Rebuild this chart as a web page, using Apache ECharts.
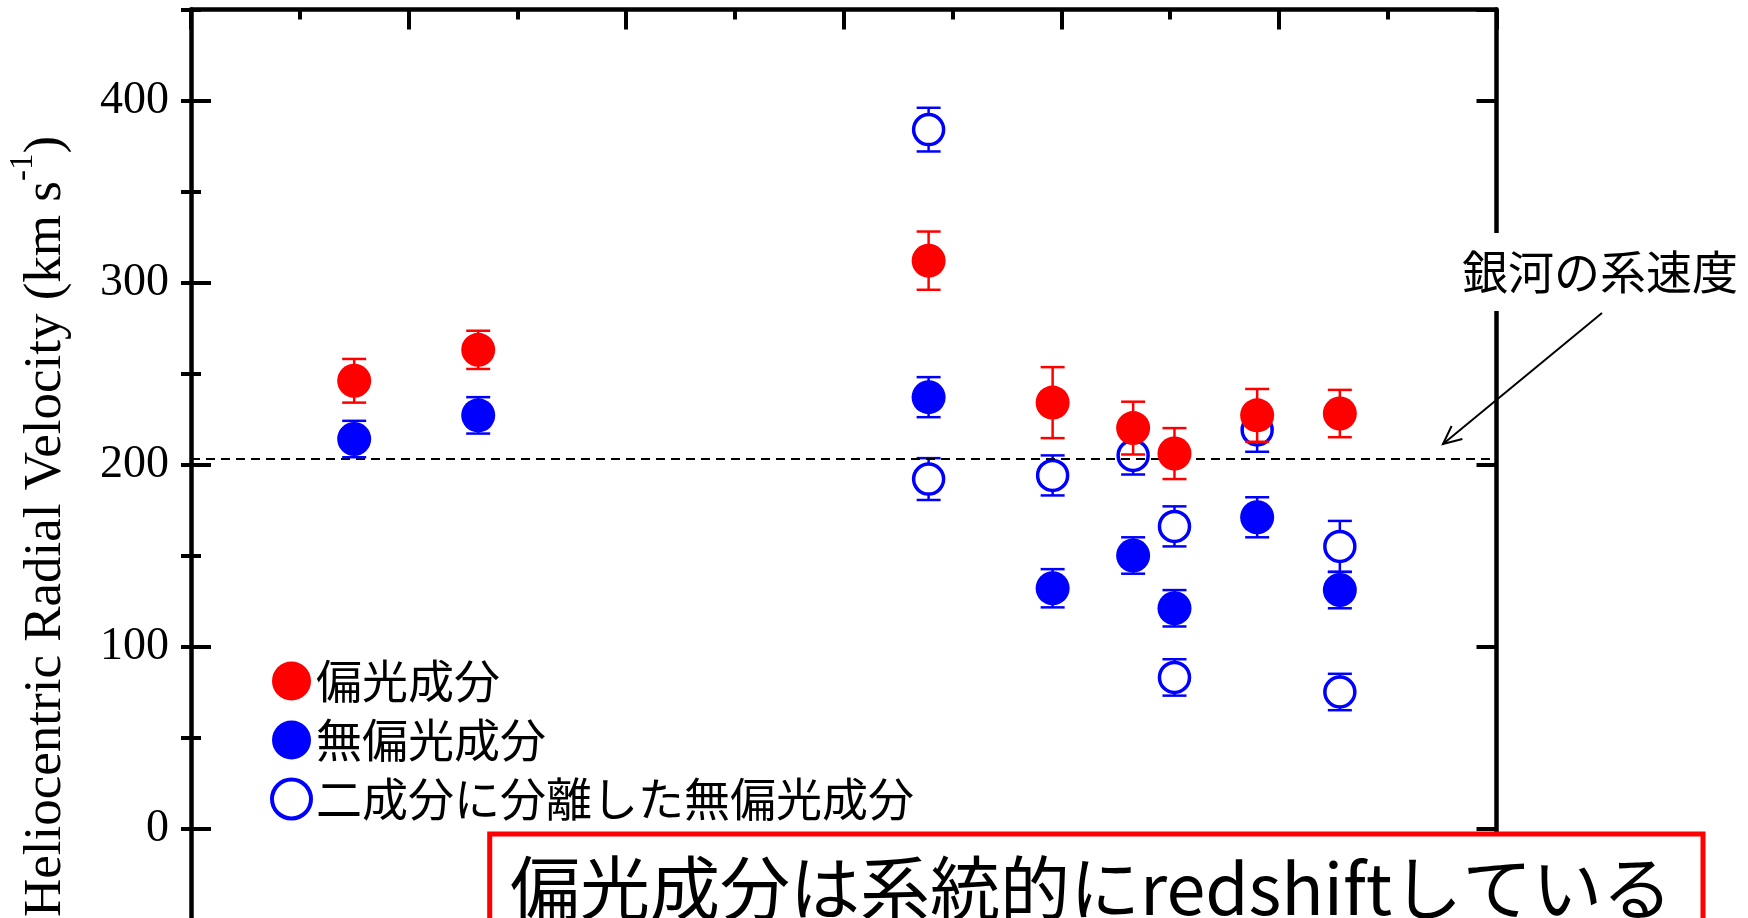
<!DOCTYPE html>
<html><head><meta charset="utf-8">
<script src="https://cdn.jsdelivr.net/npm/echarts@6/dist/echarts.min.js"></script>
<style>html,body{margin:0;padding:0;background:#fff}#c{width:1748px;height:918px}</style>
</head><body><div id="c"></div>
<script>
// ---- data ----
const seriesNames = ['偏光成分', '無偏光成分', '二成分に分離した無偏光成分'];
const xPos = [0.75, 1.32, 3.39, 3.96, 4.33, 4.52, 4.90, 5.28];
const polarizedVel = [246, 263, 312, 234, 220, 206, 227, 228];
const polarizedErr = [12, 10.5, 16, 19.5, 14.5, 14, 14.5, 13];
const unpolarizedVel = [214, 227, 237, 132, 150, 121, 171, 131];
const unpolarizedErr = [10, 10, 11, 10.5, 10, 10, 11, 10];
const twoCompX = [3.39, 3.39, 3.96, 4.33, 4.52, 4.52, 4.90, 5.28, 5.28];
const twoCompVel = [384, 192, 194, 205, 166, 83, 219, 155, 75];
const twoCompErr = [12, 11.5, 11, 10.5, 11, 10, 12, 14, 10];
const systemicVel = 203;
const yTickValues = [0, 100, 200, 300, 400];
const titleMain = 'Heliocentric Radial Velocity (km s';
const titleSup = '-1';
const titleEnd = ')';
const annotationText = '銀河の系速度';
const boxText = '偏光成分は系統的にredshiftしている';

const RED = '#ff0000', BLUE = '#0000ff';
const SERIF = '"Liberation Serif", "Times New Roman", serif';
const CJK = '"Noto Sans CJK JP", sans-serif';

function errRender(color) {
  return function (params, api) {
    const x = api.value(0), y = api.value(1), e = api.value(2);
    const hi = api.coord([x, y + e]), lo = api.coord([x, y - e]);
    const w = 12;
    const style = { stroke: color, lineWidth: 2.5, fill: null };
    return { type: 'group', children: [
      { type: 'line', shape: { x1: hi[0], y1: hi[1], x2: lo[0], y2: lo[1] }, style },
      { type: 'line', shape: { x1: hi[0] - w, y1: hi[1], x2: hi[0] + w, y2: hi[1] }, style },
      { type: 'line', shape: { x1: lo[0] - w, y1: lo[1], x2: lo[0] + w, y2: lo[1] }, style }
    ]};
  };
}

const polData = xPos.map((x, i) => [x, polarizedVel[i], polarizedErr[i]]);
const unpolData = xPos.map((x, i) => [x, unpolarizedVel[i], unpolarizedErr[i]]);
const twoData = twoCompX.map((x, i) => [x, twoCompVel[i], twoCompErr[i]]);

const ctx = document.createElement('canvas').getContext('2d');
function tw(str, font) { ctx.font = font; return ctx.measureText(str).width; }
const titleFont = '53px ' + SERIF, supFont = '33px ' + SERIF;
const w1 = tw(titleMain, titleFont), w2 = tw(titleSup, supFont);

// arrow geometry (annotation)
const tail = [1602, 313], tip = [1443, 444];
const dx = tail[0] - tip[0], dy = tail[1] - tip[1], L = Math.hypot(dx, dy);
const ux = dx / L, uy = dy / L, hl = 20, ang = 25 * Math.PI / 180;
const h1 = [tip[0] + hl * (ux * Math.cos(ang) - uy * Math.sin(ang)), tip[1] + hl * (ux * Math.sin(ang) + uy * Math.cos(ang))];
const h2 = [tip[0] + hl * (ux * Math.cos(-ang) - uy * Math.sin(-ang)), tip[1] + hl * (ux * Math.sin(-ang) + uy * Math.cos(-ang))];

const axW = 4.5;
const chart = echarts.init(document.getElementById('c'), null, { renderer: 'canvas' });
chart.setOption({
  animation: false,
  backgroundColor: '#fff',
  grid: { left: 191, right: 251.5, top: 9.5, bottom: -92.5, outerBoundsMode: 'none', containLabel: false },
  legend: {
    orient: 'vertical', left: 265, top: 653, padding: 5, itemWidth: 39, itemHeight: 39, itemGap: 13,
    selectedMode: false,
    textStyle: { fontFamily: CJK, fontSize: 46, lineHeight: 45, color: '#000' },
    data: [
      { name: seriesNames[0], icon: 'circle', itemStyle: { color: RED } },
      { name: seriesNames[1], icon: 'circle', itemStyle: { color: BLUE } },
      { name: seriesNames[2], icon: 'circle', itemStyle: { color: '#fff', borderColor: BLUE, borderWidth: 4 } }
    ]
  },
  xAxis: [
    { type: 'value', position: 'bottom', min: 0, max: 6, interval: 1, show: false },
    { type: 'value', position: 'top', min: 0, max: 6, interval: 1,
      axisLine: { show: true, onZero: false, lineStyle: { color: '#000', width: axW } },
      axisTick: { show: true, inside: true, length: 20, lineStyle: { color: '#000', width: 4 } },
      minorTick: { show: true, splitNumber: 2, length: 10, lineStyle: { color: '#000', width: 4 } },
      axisLabel: { show: false }, splitLine: { show: false } }
  ],
  yAxis: [
    { type: 'value', position: 'left', min: -100, max: 450, interval: 100,
      axisLine: { show: true, onZero: false, lineStyle: { color: '#000', width: axW } },
      axisTick: { show: true, inside: true, length: 20, lineStyle: { color: '#000', width: 4 } },
      axisLabel: { show: true, margin: 22, color: '#000', fontFamily: SERIF, fontSize: 46,
        showMaxLabel: false,
        formatter: v => (yTickValues.indexOf(v) >= 0 ? String(v) : '') },
      splitLine: { show: false } },
    { type: 'value', position: 'left', min: -100, max: 450, interval: 50,
      axisLine: { show: false },
      axisTick: { show: true, inside: true, length: 10, lineStyle: { color: '#000', width: 4 } },
      axisLabel: { show: false }, splitLine: { show: false } },
    { type: 'value', position: 'right', min: -100, max: 450, interval: 100,
      axisLine: { show: true, onZero: false, lineStyle: { color: '#000', width: axW } },
      axisTick: { show: true, inside: true, length: 20, lineStyle: { color: '#000', width: 4 } },
      axisLabel: { show: false }, splitLine: { show: false } },
    { type: 'value', position: 'right', min: -100, max: 450, interval: 50,
      axisLine: { show: false },
      axisTick: { show: true, inside: true, length: 10, lineStyle: { color: '#000', width: 4 } },
      axisLabel: { show: false }, splitLine: { show: false } }
  ],
  series: [
    { type: 'line', name: 'systemic', data: [], z: 1, silent: true,
      markLine: { silent: true, symbol: ['none', 'none'], label: { show: false },
        lineStyle: { color: '#000', width: 2, type: [9, 6] },
        data: [{ yAxis: systemicVel }] } },
    { type: 'custom', name: 'err2', data: twoData, encode: { x: 0, y: 1 }, renderItem: errRender(BLUE), z: 3, silent: true, clip: false },
    { type: 'scatter', name: seriesNames[2], data: twoData, symbol: 'circle', symbolSize: 30, z: 4,
      itemStyle: { color: '#fff', borderColor: BLUE, borderWidth: 3.5, opacity: 1 }, emphasis: { disabled: true } },
    { type: 'custom', name: 'err1', data: unpolData, encode: { x: 0, y: 1 }, renderItem: errRender(BLUE), z: 5, silent: true, clip: false },
    { type: 'scatter', name: seriesNames[1], data: unpolData, symbol: 'circle', symbolSize: 34, z: 6,
      itemStyle: { color: BLUE, opacity: 1 }, emphasis: { disabled: true } },
    { type: 'custom', name: 'err0', data: polData, encode: { x: 0, y: 1 }, renderItem: errRender(RED), z: 7, silent: true, clip: false },
    { type: 'scatter', name: seriesNames[0], data: polData, symbol: 'circle', symbolSize: 34, z: 8,
      itemStyle: { color: RED, opacity: 1 }, emphasis: { disabled: true } }
  ],
  graphic: [
    { type: 'group', x: 46, y: 917, rotation: Math.PI / 2, z: 100, children: [
      { type: 'text', x: 0, y: 0, style: { text: titleMain, font: titleFont, fill: '#000', align: 'left', verticalAlign: 'middle' } },
      { type: 'text', x: w1, y: -23, style: { text: titleSup, font: supFont, fill: '#000', align: 'left', verticalAlign: 'middle' } },
      { type: 'text', x: w1 + w2, y: 0, style: { text: titleEnd, font: titleFont, fill: '#000', align: 'left', verticalAlign: 'middle' } }
    ]},
    { type: 'text', x: 1456, y: 272, z: 100, style: { text: annotationText, font: '46px ' + CJK, fill: '#000',
      align: 'left', verticalAlign: 'middle', backgroundColor: '#fff', padding: [14, 8, 18, 6] } },
    { type: 'line', z: 100, shape: { x1: tail[0], y1: tail[1], x2: tip[0], y2: tip[1] }, style: { stroke: '#000', lineWidth: 2 } },
    { type: 'polyline', z: 100, shape: { points: [h1, tip, h2] }, style: { stroke: '#000', lineWidth: 2, fill: null } },
    { type: 'rect', z: 100, shape: { x: 489.7, y: 834, width: 1213.3, height: 200 }, style: { fill: '#fff', stroke: RED, lineWidth: 5 } },
    { type: 'text', x: 510, y: 853, z: 101, style: { text: boxText, font: '70px ' + CJK, fill: '#000', align: 'left', verticalAlign: 'top' } }
  ]
});
</script></body></html>
